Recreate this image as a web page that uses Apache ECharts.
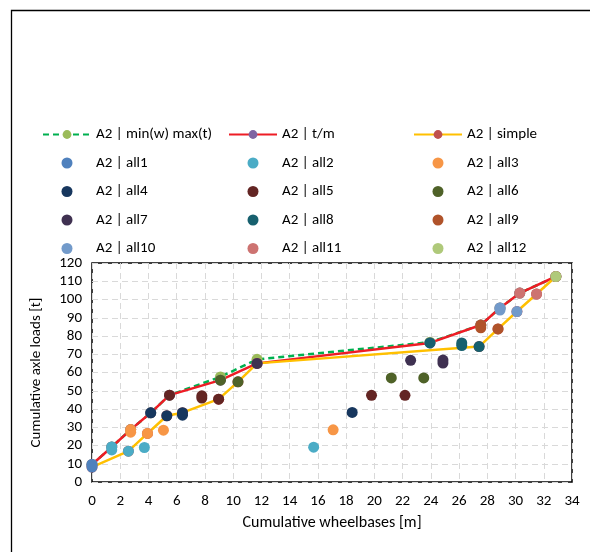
<!DOCTYPE html>
<html><head><meta charset="utf-8">
<script src="https://cdn.jsdelivr.net/npm/echarts@6/dist/echarts.min.js"></script>
<style>html,body{margin:0;padding:0;background:#fff}#c{width:590px;height:552px}</style>
</head><body><div id="c"></div>
<script>
// ---- data ----
const xTicks = {min:0, max:34, interval:2};
const yTicks = {min:0, max:120, interval:10};
const minMaxLine = [[0,9.6],[1.4,19.2],[2.74,28.7],[4.16,37.9],[5.49,47.6],[9.1,57.6],[11.69,67.2],[23.94,76.6],[27.54,86],[28.9,95.4],[30.3,103.5],[32.86,112.6]];
const tmLine = [[0,9.6],[1.4,19.2],[2.74,28.7],[4.16,37.9],[5.49,47.6],[9.1,55.8],[11.69,65],[23.94,76.2],[27.54,86],[28.9,95.4],[30.3,103.5],[32.86,112.6]];
const simpleLine = [[0,8.2],[2.58,16.9],[3.93,26.6],[5.3,36.3],[6.41,38],[8.97,45.4],[10.34,54.9],[11.69,65],[27.42,74.2],[28.76,83.9],[30.1,93.4],[31.49,103],[32.86,112.6]];
const all1 = [[0,8.2],[0,9.6]];
const all2 = [[1.4,17.6],[1.4,19.2],[2.58,16.9],[3.71,18.9],[15.7,19.1]];
const all3 = [[2.74,27.3],[2.74,28.7],[3.93,26.6],[5.06,28.4],[17.08,28.6]];
const all4 = [[4.16,37.9],[5.3,36.3],[6.41,36.6],[6.41,38],[18.43,38.1]];
const all5 = [[5.49,47.6],[7.78,46.0],[7.78,47.2],[8.97,45.4],[19.8,47.5],[22.17,47.5]];
const all6 = [[9.1,55.8],[10.34,54.9],[21.2,57],[23.5,57]];
const all7 = [[11.69,65],[22.57,66.7],[24.86,65.2],[24.86,66.8]];
const all8 = [[23.94,76.2],[26.19,74.8],[26.19,76.2],[27.42,74.2]];
const all9 = [[27.54,84.5],[27.54,86],[28.76,83.9]];
const all10 = [[28.9,94.2],[28.9,95.4],[30.1,93.4]];
const all11 = [[30.3,103.5],[31.49,103]];
const all12 = [[32.86,112.6]];
const lineNames = ['A2 | min(w) max(t)','A2 | t/m','A2 | simple'];
const scatterNames = ['A2 | all1','A2 | all2','A2 | all3','A2 | all4','A2 | all5','A2 | all6','A2 | all7','A2 | all8','A2 | all9','A2 | all10','A2 | all11','A2 | all12'];
const xName = 'Cumulative wheelbases [m]';
const yName = 'Cumulative axle loads [t]';

// ---- styles ----
const FONT = 'Carlito, Lato, sans-serif';
const scatterData = [all1,all2,all3,all4,all5,all6,all7,all8,all9,all10,all11,all12];
const scatterColors = ['#4F81BD','#4BACC6','#F79646','#17375E','#632523','#4F6228','#3F3151','#17606E','#B0532A','#729ACA','#CD7371','#AFC97A'];
const series = [
  {name:lineNames[0], type:'line', z:2, data:minMaxLine, symbol:'circle', symbolSize:11,
   lineStyle:{color:'#00B050', width:2.5, type:[6,4]}, itemStyle:{color:'#9BBB59'}},
  {name:lineNames[1], type:'line', z:2, data:tmLine, symbol:'circle', symbolSize:11,
   lineStyle:{color:'#EE1C25', width:2.5}, itemStyle:{color:'#8064A2'}},
  {name:lineNames[2], type:'line', z:2, data:simpleLine, symbol:'circle', symbolSize:11,
   lineStyle:{color:'#FFC000', width:2.5}, itemStyle:{color:'#C0504D'}}
];
scatterNames.forEach((n,i)=>{
  series.push({name:n, type:'scatter', z:4, data:scatterData[i], symbol:'circle', symbolSize:11,
    itemStyle:{color:scatterColors[i], opacity:1}});
});
const legendBase = {orient:'vertical', top:122, itemWidth:48, itemHeight:11, itemGap:13.5,
  textStyle:{fontFamily:FONT, fontSize:15, color:'#000'}, selectedMode:false};
const cols = [[lineNames[0],scatterNames[0],scatterNames[3],scatterNames[6],scatterNames[9]],
              [lineNames[1],scatterNames[1],scatterNames[4],scatterNames[7],scatterNames[10]],
              [lineNames[2],scatterNames[2],scatterNames[5],scatterNames[8],scatterNames[11]]];
const lefts = [37,223,408];
const legends = cols.map((c,i)=>Object.assign({}, legendBase, {left:lefts[i], data:c}));

const chart = echarts.init(document.getElementById('c'), null, {renderer:'canvas'});
chart.setOption({
  animation:false,
  backgroundColor:'#fff',
  legend: legends,
  graphic:[{type:'rect', left:9, top:8, shape:{width:640, height:640}, style:{fill:'none', stroke:'#000', lineWidth:1.3}, silent:true}],
  grid:{left:92, right:18, top:263, bottom:70, show:true, borderColor:'#000', borderWidth:1.5, backgroundColor:'transparent'},
  xAxis:{type:'value', min:xTicks.min, max:xTicks.max, interval:xTicks.interval,
    name:xName, nameLocation:'middle', nameGap:33,
    nameTextStyle:{fontFamily:FONT, fontSize:16, color:'#000'},
    axisLine:{show:false}, axisTick:{show:false},
    axisLabel:{fontFamily:FONT, fontSize:15, color:'#000', margin:12},
    splitLine:{show:true, lineStyle:{color:'#D9D9D9', type:[6,4], width:1}}},
  yAxis:{type:'value', min:yTicks.min, max:yTicks.max, interval:yTicks.interval,
    name:yName, nameLocation:'middle', nameGap:48,
    nameTextStyle:{fontFamily:FONT, fontSize:15, color:'#000'},
    axisLine:{show:false}, axisTick:{show:false},
    axisLabel:{fontFamily:FONT, fontSize:15, color:'#000', margin:10},
    splitLine:{show:true, lineStyle:{color:'#D9D9D9', type:[6,4], width:1}}},
  series: series
});
</script></body></html>
